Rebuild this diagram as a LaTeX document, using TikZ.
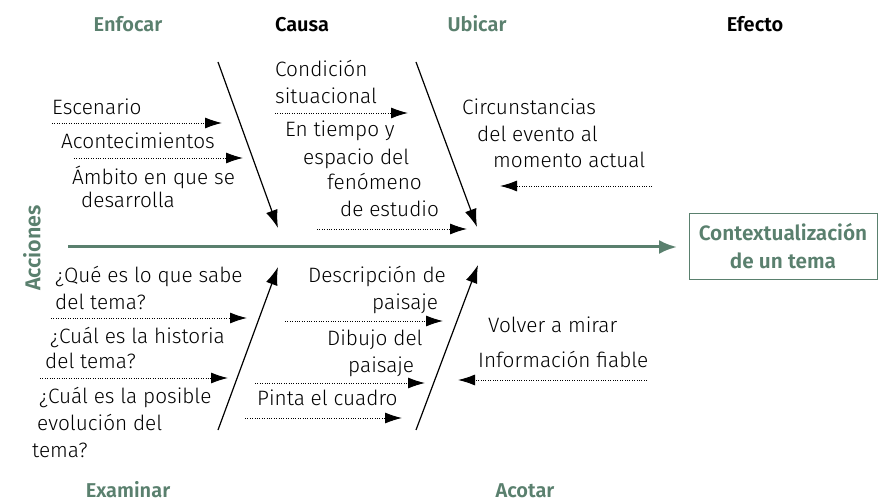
\documentclass[tikz,border=0pt]{standalone}
\usepackage{fontspec}
\setmainfont{Fira Sans}[UprightFont={* Light},BoldFont={* SemiBold}]
\usetikzlibrary{arrows.meta}
\definecolor{fgreen}{RGB}{90,128,110}
\begin{document}
\begin{tikzpicture}[x=1pt,y=-1pt,
  txt/.style={anchor=base west,inner sep=0pt,font=\fontsize{20.8}{24}\selectfont},
  hdr/.style={anchor=base,inner sep=0pt,font=\fontsize{20}{24}\selectfont\bfseries},
  bone/.style={line width=1.2pt,-{Latex[length=18pt,width=12pt]}},
  sub/.style={dash pattern=on 0.9pt off 1.5pt,line width=0.9pt,-{Latex[length=17pt,width=11pt]}}]
\useasboundingbox (0,0) rectangle (880,502);

% headers
\node[hdr,text=fgreen] (enfocar) at (128,32) {Enfocar};
\node[hdr] (causa) at (302,32) {Causa};
\node[hdr,text=fgreen] (ubicar) at (477,32) {Ubicar};
\node[hdr] (efecto) at (755,32) {Efecto};
\node[hdr,text=fgreen] (examinar) at (128,497) {Examinar};
\node[hdr,text=fgreen] (acotar) at (525,497) {Acotar};
\node[inner sep=0pt,font=\fontsize{21.5}{24}\selectfont\bfseries,text=fgreen,rotate=90] (acciones) at (32,248) {Acciones};

% effect box
\node[draw=fgreen,line width=0.8pt,minimum width=188pt,minimum height=66pt,align=center,
  text=fgreen,font=\fontsize{20.8}{28}\selectfont\bfseries] (box) at (783,246) {Contextualización\\de un tema};

% spine
\coordinate (sp0) at (68,247);
\coordinate (sp1) at (677,247);
\draw[fgreen,line width=3pt,-{Latex[length=18pt,width=14pt]}] (sp0) -- (sp1);

% bones
\coordinate (b1s) at (218,62);  \coordinate (b1e) at (278,228);
\coordinate (b2s) at (416,62);  \coordinate (b2e) at (477,227);
\coordinate (b3s) at (218,430); \coordinate (b3e) at (278,267);
\coordinate (b4s) at (416,430); \coordinate (b4e) at (478,265);
\draw[bone] (b1s) -- (b1e);
\draw[bone] (b2s) -- (b2e);
\draw[bone] (b3s) -- (b3e);
\draw[bone] (b4s) -- (b4e);

% dotted sub-arrows
\coordinate (a1s) at (52,123);  \coordinate (a1e) at (222,123);
\coordinate (a2s) at (74,158);  \coordinate (a2e) at (243,158);
\coordinate (a3s) at (275,113); \coordinate (a3e) at (408,113);
\coordinate (a4s) at (317,229); \coordinate (a4e) at (467,229);
\coordinate (a5s) at (652,186); \coordinate (a5e) at (500,186);
\coordinate (a6s) at (51,318);  \coordinate (a6e) at (247,318);
\coordinate (a7s) at (40,378);  \coordinate (a7e) at (228,378);
\coordinate (a8s) at (285,321); \coordinate (a8e) at (443,321);
\coordinate (a9s) at (255,383); \coordinate (a9e) at (425,383);
\coordinate (a10s) at (245,418); \coordinate (a10e) at (402,418);
\coordinate (a11s) at (647,380); \coordinate (a11e) at (458,380);
\foreach \i in {1,...,11} {\draw[sub] (a\i s) -- (a\i e);}

% texts
\node[txt] (t1) at (52,115) {Escenario};
\node[txt] (t2) at (61,149) {Acontecimientos};
\node[txt] (t3) at (72,185) {Ámbito en que se};
\node[txt] (t4) at (81,208) {desarrolla};
\node[txt] (t5) at (275,77) {Condición};
\node[txt] (t6) at (275,104) {situacional};
\node[txt] (t7) at (285,137) {En tiempo y};
\node[txt] (t8) at (303,165) {espacio del};
\node[txt] (t9) at (327,190) {fenómeno};
\node[txt] (t10) at (340,217) {de estudio};
\node[txt] (t11) at (462,115) {Circunstancias};
\node[txt] (t12) at (477,142) {del evento al};
\node[txt] (t13) at (493,168) {momento actual};
\node[txt] (t14) at (55,283) {¿Qué es lo que sabe};
\node[txt] (t15) at (55,310) {del tema?};
\node[txt] (t16) at (50,343) {¿Cuál es la historia};
\node[txt] (t17) at (45,368) {del tema?};
\node[txt] (t18) at (39,403) {¿Cuál es la posible};
\node[txt] (t19) at (37,430) {evolución del};
\node[txt] (t20) at (32,457) {tema?};
\node[txt] (t21) at (308,283) {Descripción de};
\node[txt] (t22) at (372,310) {paisaje};
\node[txt] (t23) at (327,345) {Dibujo del};
\node[txt] (t24) at (348,372) {paisaje};
\node[txt] (t25) at (257,405) {Pinta el cuadro};
\node[txt] (t26) at (488,333) {Volver a mirar};
\node[txt] (t27) at (478,367) {Información fiable};
\end{tikzpicture}
\end{document}
